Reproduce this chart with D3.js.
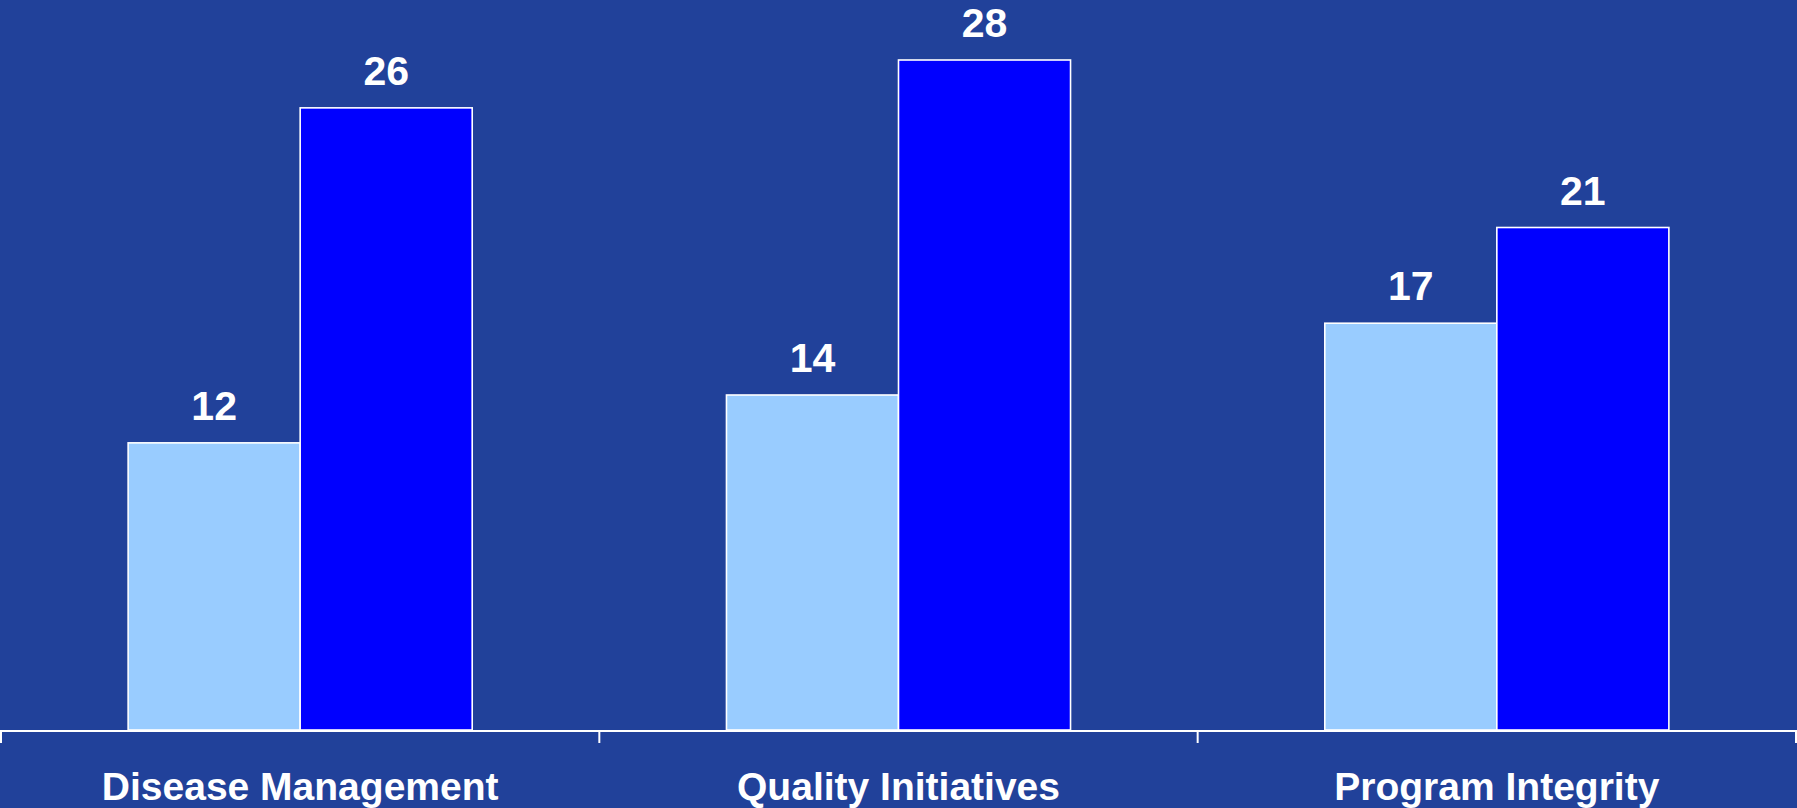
<!DOCTYPE html>
<html>
<head>
<meta charset="utf-8">
<script src="https://cdn.jsdelivr.net/npm/d3@7/dist/d3.min.js"></script>
<style>
  html, body { margin: 0; padding: 0; background: #21419A; overflow: hidden; }
  svg { display: block; }
  text { font-family: "Liberation Sans", Arial, sans-serif; font-weight: bold; fill: #ffffff; }
</style>
</head>
<body>
<svg id="chart" width="1797" height="808"></svg>
<script>
// Program categories and the two series compared in each
const categories = ["Disease Management", "Quality Initiatives", "Program Integrity"];
const seriesNames = ["first", "second"];
const firstValues = [12, 14, 17];
const secondValues = [26, 28, 21];
const seriesColors = ["#99CCFF", "#0000FF"];

const width = 1797, height = 808;
const baseY = 730;

const svg = d3.select("#chart");
svg.append("rect").attr("width", width).attr("height", height).attr("fill", "#21419A");

const x0 = d3.scaleBand().domain(categories).range([1, 1796]).padding(0);
const x1 = d3.scaleBand().domain(seriesNames).range([0, x0.bandwidth()])
  .paddingInner(0).paddingOuter(0.739);
const y = d3.scaleLinear().domain([0, 28]).range([baseY, 60]);

const rows = categories.map((c, i) => ({
  category: c,
  values: [
    { key: "first", value: firstValues[i] },
    { key: "second", value: secondValues[i] }
  ]
}));

const color = d3.scaleOrdinal().domain(seriesNames).range(seriesColors);

const groups = svg.append("g").selectAll("g")
  .data(rows)
  .join("g")
  .attr("transform", d => `translate(${x0(d.category)},0)`);

groups.selectAll("rect")
  .data(d => d.values)
  .join("rect")
  .attr("x", d => x1(d.key))
  .attr("y", d => y(d.value))
  .attr("width", x1.bandwidth())
  .attr("height", d => baseY - y(d.value))
  .attr("fill", d => color(d.key))
  .attr("stroke", "#ffffff")
  .attr("stroke-width", 1.6);

groups.selectAll("text.value")
  .data(d => d.values)
  .join("text")
  .attr("class", "value")
  .attr("x", d => x1(d.key) + x1.bandwidth() / 2)
  .attr("y", d => y(d.value) - 23)
  .attr("text-anchor", "middle")
  .attr("font-size", 41)
  .text(d => d.value);

// Category axis along the baseline, ticks at the group boundaries
const axisG = svg.append("g");
axisG.append("line")
  .attr("x1", 0).attr("x2", width)
  .attr("y1", baseY + 1).attr("y2", baseY + 1)
  .attr("stroke", "#ffffff").attr("stroke-width", 2);

const tickXs = categories.map(c => x0(c)).concat([x0.range()[1]]);
axisG.selectAll("line.tick")
  .data(tickXs)
  .join("line")
  .attr("class", "tick")
  .attr("x1", d => d).attr("x2", d => d)
  .attr("y1", baseY + 1).attr("y2", baseY + 13)
  .attr("stroke", "#ffffff").attr("stroke-width", 2);

axisG.selectAll("text.cat")
  .data(categories)
  .join("text")
  .attr("class", "cat")
  .attr("x", d => x0(d) + x0.bandwidth() / 2)
  .attr("y", 800)
  .attr("text-anchor", "middle")
  .attr("font-size", 39)
  .text(d => d);
</script>
</body>
</html>
